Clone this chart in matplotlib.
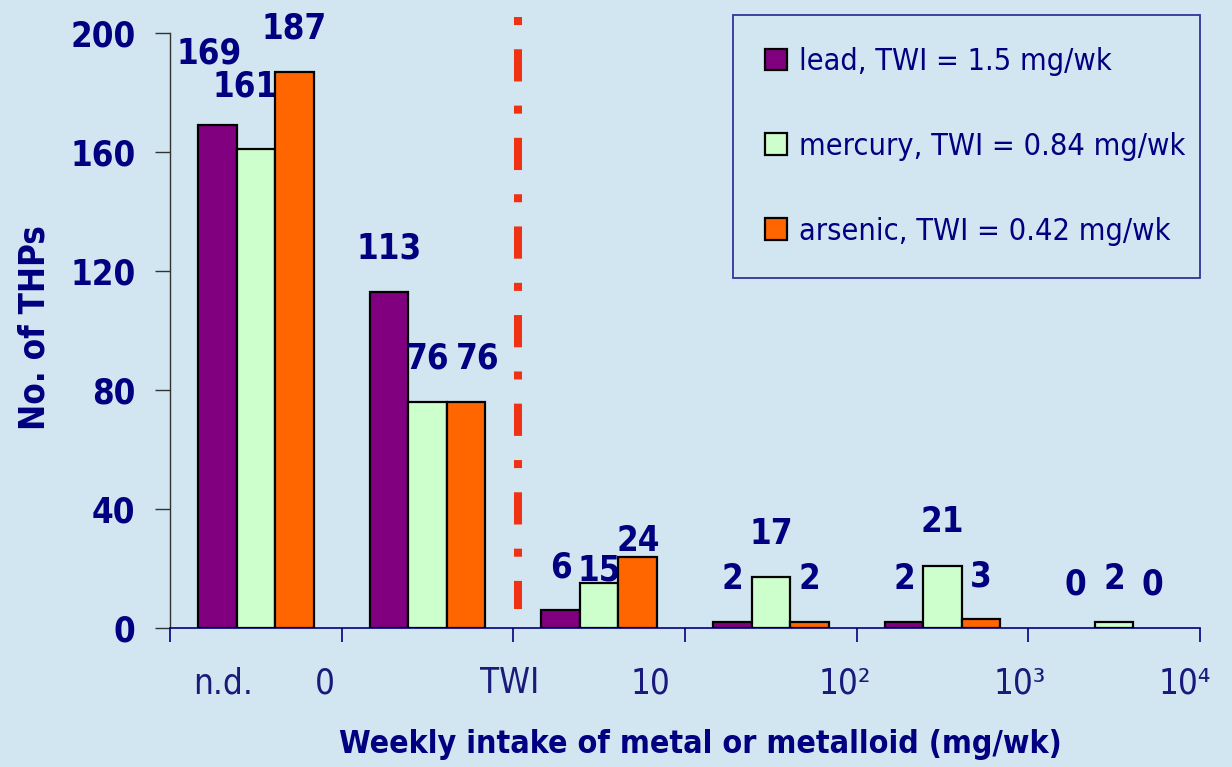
import numpy as np
import matplotlib
matplotlib.use('Agg')
import matplotlib.pyplot as plt
from matplotlib.patches import Patch

# ---------------- data ----------------
categories = ['n.d.', '0-TWI', 'TWI-10', '10-100', '100-1000', '1000-10000']
lead = [169, 113, 6, 2, 2, 0]
mercury = [161, 76, 15, 17, 21, 2]
arsenic = [187, 76, 24, 2, 3, 0]
series_labels = ['lead, TWI = 1.5 mg/wk',
                 'mercury, TWI = 0.84 mg/wk',
                 'arsenic, TWI = 0.42 mg/wk']
tick_texts = ['n.d.', '0', 'TWI', '10', '10²', '10³', '10⁴']

# ---------------- style ----------------
BG = '#D2E6F1'
NAVY = '#000080'
TICK_NAVY = '#1A1A7A'
COLORS = ['#800080', '#CCFFCC', '#FF6600']
BAR_W = 0.225

plt.rcParams['font.family'] = ['DejaVu Sans']
plt.rcParams['font.stretch'] = 'condensed'

fig = plt.figure(figsize=(12.32, 7.67), dpi=100, facecolor=BG)
ax = fig.add_axes([170 / 1232, 1 - 628 / 767, 1030 / 1232, 595 / 767])
ax.set_facecolor(BG)

x = np.arange(len(categories))
all_series = [lead, mercury, arsenic]
# label nudges (points) for the few labels that were moved in the original
nudge_y = {(0, 0): 21, (1, 0): 14, (1, 2): -22, (2, 2): -20}
nudge_x = {(0, 0): -6, (1, 0): -8, (2, 1): 8}

for k, (vals, col, lab) in enumerate(zip(all_series, COLORS, series_labels)):
    xs = x + (k - 1) * BAR_W
    lws = [1.6 if v > 0 else 0 for v in vals]
    ax.bar(xs, vals, width=BAR_W, color=col, edgecolor='black',
           linewidth=lws, label=lab, zorder=3)
    for i, v in enumerate(vals):
        ax.annotate(str(v), (xs[i], v), xytext=(nudge_x.get((k, i), 0),
                    31 + nudge_y.get((k, i), 0)),
                    textcoords='offset points', ha='center', va='center',
                    fontsize=25, fontweight='bold', color=NAVY,
                    annotation_clip=False)

# TWI dashed marker
twi_x = 1.53
ax.plot([twi_x, twi_x], [205.4, 6.4], color='#F03214', lw=5.8,
        dashes=(1, 3, 4, 3), solid_capstyle='butt', dash_capstyle='butt',
        clip_on=False, zorder=4)

ax.set_xlim(-0.5, 5.5)
ax.set_ylim(0, 200)
ax.set_yticks(np.arange(0, 201, 40))
ax.set_xticks(np.arange(-0.5, 5.6, 1.0))
ax.set_xticklabels([])

for s in ['top', 'right']:
    ax.spines[s].set_visible(False)
ax.spines['left'].set_color('#333333')
ax.spines['left'].set_linewidth(1.0)
ax.spines['bottom'].set_color(NAVY)
ax.spines['bottom'].set_linewidth(1.2)

ax.tick_params(axis='y', direction='out', length=11, width=1.0,
               color='#333333', pad=14, labelsize=25, labelcolor=NAVY)
for t in ax.get_yticklabels():
    t.set_fontweight('bold')
ax.tick_params(axis='x', direction='out', length=10, width=1.2,
               color=NAVY)

# category boundary labels
tick_pos = [-0.19, 0.40, 1.48, 2.30, 3.43, 4.45, 5.41]
for px, txt in zip(tick_pos, tick_texts):
    ax.text(px, -18.5, txt, ha='center', va='center', fontsize=25,
            color=TICK_NAVY)

fig.text(700 / 1232, 1 - 745 / 767,
         'Weekly intake of metal or metalloid (mg/wk)', ha='center',
         va='center', fontsize=23, fontweight='bold', color=NAVY)
fig.text(35 / 1232, 1 - 328 / 767, 'No. of THPs', rotation=90,
         ha='center', va='center', fontsize=25, fontweight='bold',
         color=NAVY)

handles = [Patch(facecolor=c, edgecolor='black', linewidth=1.6)
           for c in COLORS]
leg = fig.legend(handles, series_labels, loc='upper left',
                 bbox_to_anchor=(733 / 1232, 1 - 275 / 767,
                                 467 / 1232, 260 / 767),
                 mode='expand', fontsize=22, labelcolor=NAVY,
                 handlelength=0.72, handleheight=0.72, handletextpad=0.4,
                 labelspacing=1.83, borderpad=1.05, borderaxespad=0,
                 fancybox=False, facecolor=BG, edgecolor='#333399',
                 framealpha=1)
leg.get_frame().set_linewidth(1.3)

fig.savefig('out.png', dpi=100, facecolor=BG)
